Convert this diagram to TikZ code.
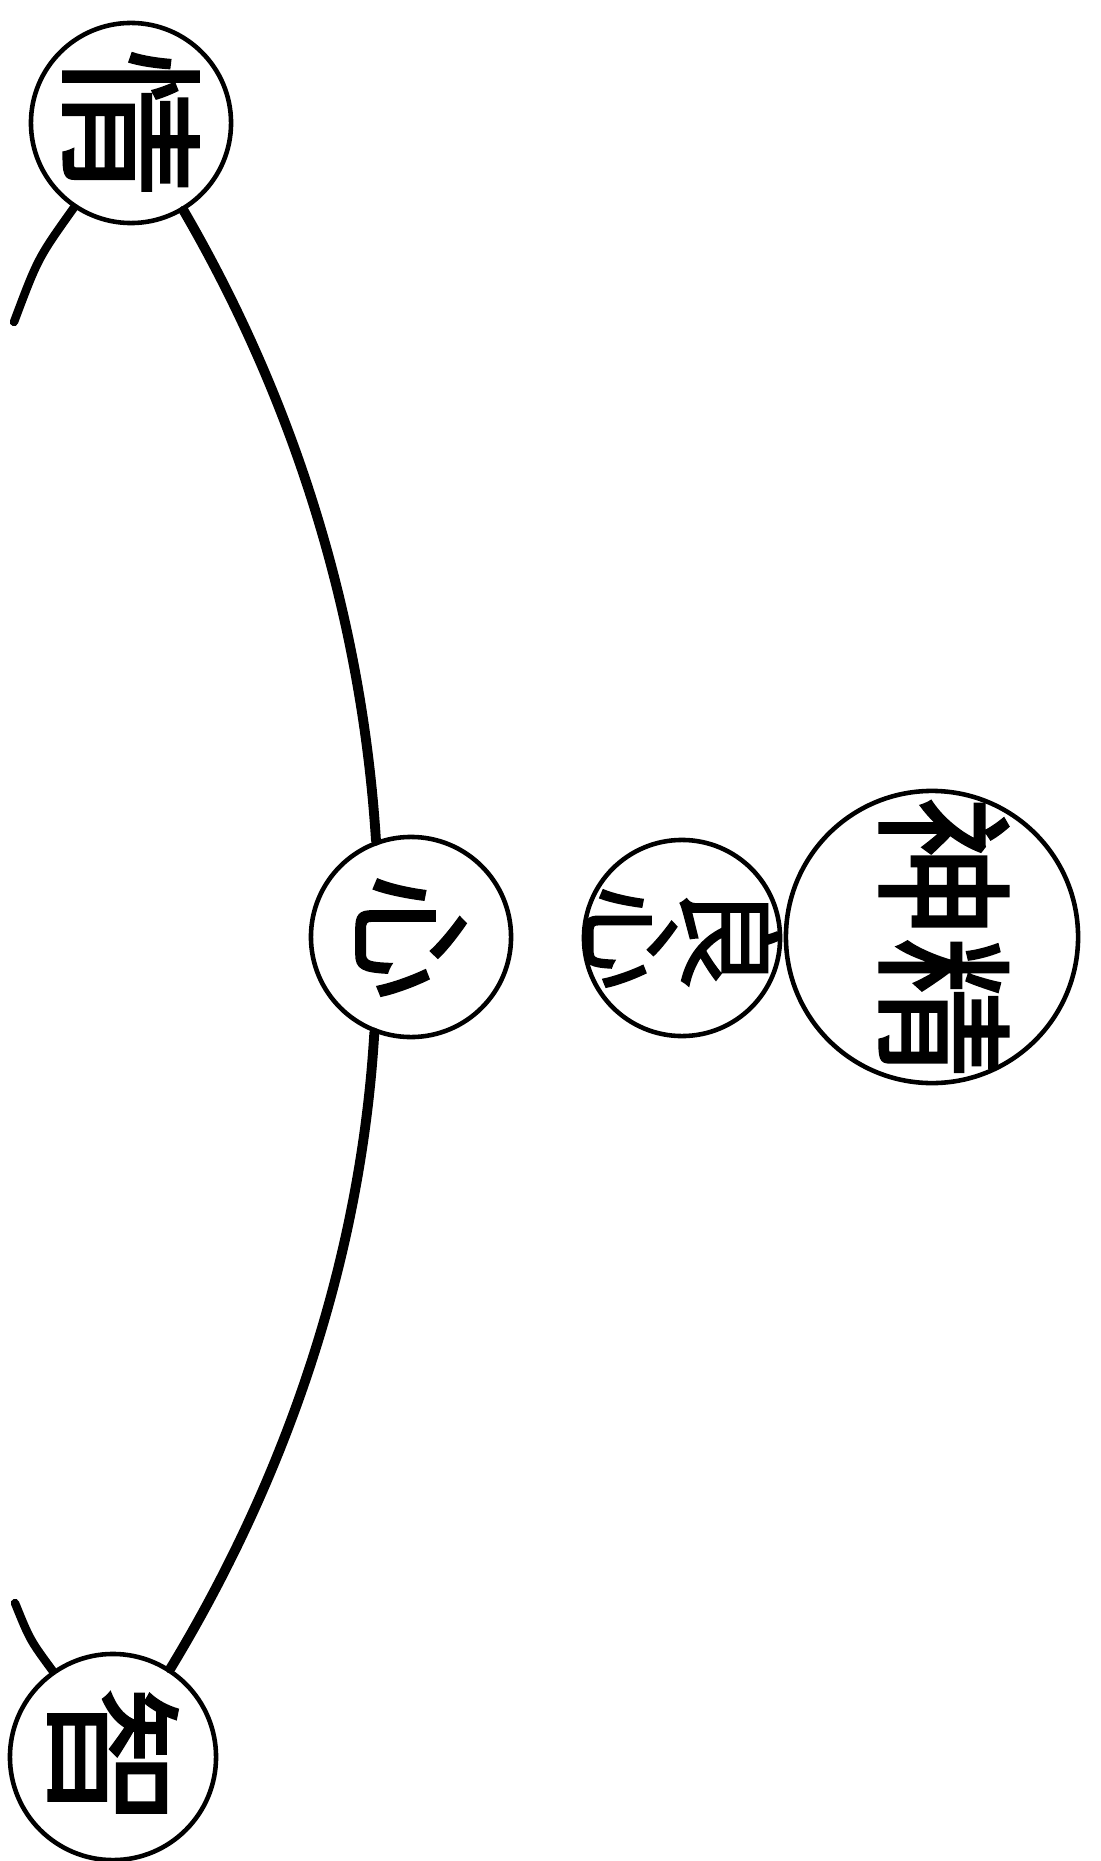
\documentclass[tikz,border=0pt]{standalone}
\usepackage{fontspec}
\newfontfamily\cjk[FakeBold=1.5]{Noto Sans CJK SC}
\usetikzlibrary{positioning}

\begin{document}
\begin{tikzpicture}[x=0.01cm,y=-0.01cm,
  ring/.style={draw=black,circle,line width=1.3pt,inner sep=0pt},
  word/.style={rotate=-90,inner sep=0pt,align=center},
  link/.style={line width=2.8pt,line cap=round,draw=black}]
\path[use as bounding box,fill=white] (0,0) rectangle (1101,1861);
\node[ring,minimum size=2cm,
  label={[word,font=\cjk\fontsize{42}{42}\selectfont]center:情}] (qing) at (131,123) {};
\node[ring,minimum size=2cm,
  label={[word,font=\cjk\fontsize{36}{36}\selectfont]center:心}] (xin) at (411,937) {};
\node[ring,minimum size=2.06cm,
  label={[word,font=\cjk\fontsize{40}{40}\selectfont]center:智}] (zhi) at (113,1757) {};
\node[ring,minimum size=1.96cm,
  label={[word,font=\cjk\fontsize{30}{26}\selectfont]center:{良\\心}}] (liangxin) at (682,938) {};
\node[ring,minimum size=2.92cm,
  label={[word,font=\cjk\fontsize{40}{40}\selectfont,yshift=0.12cm]center:神精}] (jingshen) at (932,937) {};
\coordinate (qingtail) at (14,322);
\coordinate (zhitail) at (15,1603);
% big arc through the middle
\draw[link] (qing.-59) .. controls (296,404) and (362,619) .. (xin.110);
\draw[link] (xin.-111) .. controls (361,1258) and (287,1476) .. (zhi.57);
% cut-off ends on the left
\draw[link,line width=2.4pt] (qing.-124) .. controls (38,258) .. (qingtail);
\draw[link,line width=2.4pt] (zhi.125) .. controls (30,1640) .. (zhitail);
\end{tikzpicture}
\end{document}
